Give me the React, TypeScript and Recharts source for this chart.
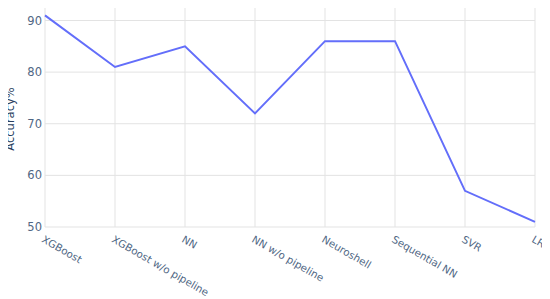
import { LineChart, Line, XAxis, YAxis, CartesianGrid } from 'recharts';

const models = ['XGBoost', 'XGBoost w/o pipeline', 'NN', 'NN w/o pipeline', 'Neuroshell', 'Sequential NN', 'SVR', 'LR'];
const accuracy = [91, 81, 85, 72, 86, 86, 57, 51];
const yTicks = [50, 60, 70, 80, 90];

const data = models.map((model, i) => ({ model, accuracy: accuracy[i] }));

const FONT = '"DejaVu Sans", Verdana, sans-serif';
const TEXT = '#506784';

const AngledTick = ({ x, y, payload }: any) => (
  <text
    transform={`translate(${x - 4},${y + 14.5}) rotate(30)`}
    textAnchor="start"
    fontSize={10.3}
    fontFamily={FONT}
    fill={TEXT}
  >
    {payload.value}
  </text>
);

const YTitle = ({ viewBox }: any) => {
  const cy = viewBox.y + viewBox.height / 2 + 3;
  return (
    <text
      transform={`translate(14,${cy}) rotate(-90)`}
      textAnchor="middle"
      fontSize={11.5}
      fontFamily={FONT}
      fill="#2a3f5f"
    >
      Accuracy%
    </text>
  );
};

export default function App() {
  return (
    <div style={{ position: 'relative', left: -8, top: -8, width: 550, height: 299, background: '#fff' }}>
      <LineChart width={550} height={299} data={data} margin={{ top: 5, right: 15, bottom: 0, left: 0 }}>
        <CartesianGrid stroke="#e3e3e3" strokeWidth={1} />
        <XAxis
          dataKey="model"
          scale="point"
          padding={{ left: 0, right: 0 }}
          axisLine={false}
          tickLine={false}
          tickSize={0}
          tickMargin={0}
          interval={0}
          height={72}
          tick={<AngledTick />}
        />
        <YAxis
          domain={[50, 93]}
          ticks={yTicks}
          allowDataOverflow
          axisLine={false}
          tickLine={false}
          tickSize={0}
          tickMargin={3}
          width={45}
          tick={{ fontSize: 11.5, fontFamily: FONT, fill: TEXT }}
          label={<YTitle />}
        />
        <Line
          type="linear"
          dataKey="accuracy"
          stroke="#636efa"
          strokeWidth={2}
          dot={false}
          activeDot={false}
          isAnimationActive={false}
        />
      </LineChart>
    </div>
  );
}
